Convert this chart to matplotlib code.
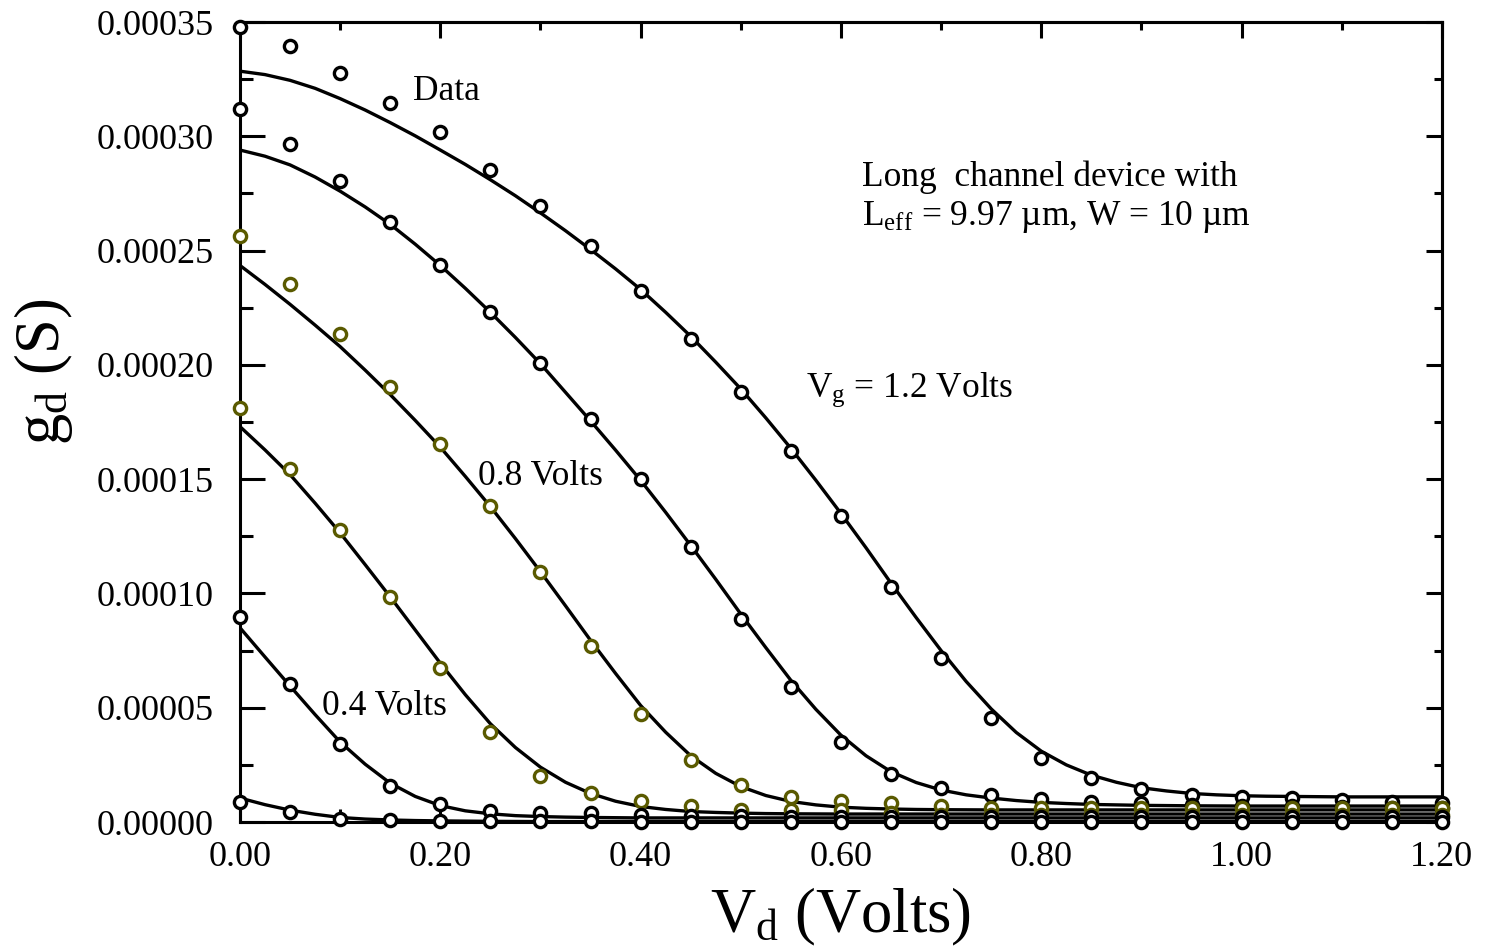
import numpy as np
import matplotlib.pyplot as plt
from matplotlib.ticker import MultipleLocator, FormatStrFormatter

plt.rcParams['font.family'] = ['Liberation Serif', 'DejaVu Serif']
plt.rcParams['mathtext.fontset'] = 'custom'
plt.rcParams['mathtext.rm'] = 'Liberation Serif'
plt.rcParams['mathtext.it'] = 'Liberation Serif:italic'

# drain voltage of the measured points (V)
vd = [0.00, 0.05, 0.10, 0.15, 0.20, 0.25, 0.30, 0.35, 0.40, 0.45, 0.50, 0.55,
      0.60, 0.65, 0.70, 0.75, 0.80, 0.85, 0.90, 0.95, 1.00, 1.05, 1.10, 1.15, 1.20]

# measured gd in micro-siemens, Vg = 1.2 ... 0.2
data_12 = [348, 339.3, 327.6, 314.7, 301.7, 285.3, 269.3, 252.2, 232.3, 211.2, 188.1, 162.3,
           133.9, 102.8, 71.8, 45.5, 28.0, 19.3, 14.4, 12.0, 11.0, 10.5, 9.6, 8.6, 8.5]
data_10 = [312, 296.6, 280.4, 262.6, 243.7, 223.3, 200.8, 176.3, 150, 120.5, 89, 59,
           35, 21, 14.9, 11.8, 10.0, 8.8, 8.2, 7.5, 7.0, 7.0, 6.5, 6.0, 6.0]
data_08 = [256.5, 235.4, 213.4, 190.2, 165.4, 138.3, 109.2, 77.1, 47.3, 27.1, 16.2, 11.1,
           9.2, 8.5, 7.1, 6.0, 6.0, 6.0, 6.0, 6.0, 6.0, 6.0, 6.0, 6.0, 6.0]
data_06 = [181, 154.4, 127.8, 98.4, 67.4, 39.4, 20.1, 12.7, 9.2, 6.8, 5.3, 5.3,
           5.3, 3.8, 3.1, 3.1, 3.1, 3.1, 3.1, 3.1, 3.1, 3.1, 3.1, 3.1, 3.1]
data_04 = [89.6, 60.4, 34.1, 15.9, 7.9, 5.0, 3.8, 3.8, 3.1, 2.8, 2.5, 2.3,
           2.1, 2.0, 2.0, 2.0, 2.0, 2.0, 2.0, 2.0, 2.0, 2.0, 2.0, 2.0, 2.0]
data_02 = [8.9, 4.2, 1.3, 0.9, 0.6, 0.4, 0.3, 0.3, 0.2, 0.2, 0.2, 0.2,
           0.2, 0.1, 0.1, 0.1, 0.1, 0.1, 0.1, 0.1, 0.1, 0.1, 0.1, 0.1, 0.1]

# model fit curves (micro-siemens), read every 0.025 V
vd_fit = [0.000, 0.025, 0.050, 0.075, 0.100, 0.125, 0.150, 0.175, 0.200, 0.225,
          0.250, 0.275, 0.300, 0.325, 0.350, 0.375, 0.400, 0.425, 0.450, 0.475,
          0.500, 0.525, 0.550, 0.575, 0.600, 0.625, 0.650, 0.675, 0.700, 0.725,
          0.750, 0.775, 0.800, 0.825, 0.850, 0.875, 0.900, 0.925, 0.950, 0.975,
          1.000, 1.025, 1.050, 1.075, 1.100, 1.125, 1.150, 1.175, 1.200]
fit_12 = [328.5, 327, 324.5, 321, 316.5, 311.5, 306, 300.2, 294, 287.7,
          281, 274, 266.5, 258.7, 250.5, 242, 233, 223, 212.5, 201.2,
          189.5, 176.8, 163.5, 149.5, 135, 120, 104.5, 89.5, 75, 61.5,
          49.5, 39.2, 31, 25, 20.5, 17.4, 15, 13.6, 12.5, 11.9,
          11.5, 11.3, 11.2, 11.1, 11.0, 11.0, 11.0, 11.0, 11.0]
fit_10 = [294, 291.3, 287.5, 282.2, 276, 269.1, 261.5, 252.8, 243.5, 233.5,
          223, 212, 200.5, 188, 175.5, 162.7, 149.5, 135.5, 121, 106.2,
          91, 76.3, 62, 49.3, 38, 29, 22, 17.3, 14, 11.9,
          10.5, 9.4, 8.6, 8.1, 7.7, 7.5, 7.3, 7.2, 7.1, 7.05,
          7.0, 7.0, 7.0, 7.0, 7.0, 7.0, 7.0, 7.0, 7.0]
fit_08 = [243.5, 235.2, 226.5, 217.4, 208, 197.7, 187, 175.7, 164, 151.2,
          138, 124, 109.5, 94.6, 79.5, 65, 51, 39.3, 29, 21.3,
          15.5, 11.6, 9, 7.5, 6.5, 6.0, 5.7, 5.5, 5.4, 5.35,
          5.3, 5.3, 5.3, 5.3, 5.3, 5.3, 5.3, 5.3, 5.3, 5.3,
          5.3, 5.3, 5.3, 5.3, 5.3, 5.3, 5.3, 5.3, 5.3]
fit_06 = [173, 162.8, 152, 139.5, 126.5, 112.6, 98.5, 84, 69.5, 55.7,
          43, 32.6, 24, 17.4, 12.5, 9.1, 6.8, 5.5, 4.6, 4.2,
          3.9, 3.7, 3.6, 3.55, 3.5, 3.5, 3.5, 3.5, 3.5, 3.5,
          3.5, 3.5, 3.5, 3.5, 3.5, 3.5, 3.5, 3.5, 3.5, 3.5,
          3.5, 3.5, 3.5, 3.5, 3.5, 3.5, 3.5, 3.5, 3.5]
fit_04 = [85, 72.2, 59.5, 47, 35, 25.3, 17, 11.2, 7.2, 4.9,
          3.6, 2.8, 2.4, 2.15, 2.0, 1.9, 1.8, 1.8, 1.8, 1.8,
          1.8, 1.8, 1.8, 1.8, 1.8, 1.8, 1.8, 1.8, 1.8, 1.8,
          1.8, 1.8, 1.8, 1.8, 1.8, 1.8, 1.8, 1.8, 1.8, 1.8,
          1.8, 1.8, 1.8, 1.8, 1.8, 1.8, 1.8, 1.8, 1.8]
fit_02 = [10.5, 7.6, 5.2, 3.4, 2.0, 1.3, 0.9, 0.65, 0.5, 0.4,
          0.3, 0.25, 0.2, 0.2, 0.2, 0.2, 0.2, 0.2, 0.2, 0.2,
          0.2, 0.2, 0.2, 0.2, 0.2, 0.2, 0.2, 0.2, 0.2, 0.2,
          0.2, 0.2, 0.2, 0.2, 0.2, 0.2, 0.2, 0.2, 0.2, 0.2,
          0.2, 0.2, 0.2, 0.2, 0.2, 0.2, 0.2, 0.2, 0.2]

black = '#000000'
olive = '#5a5a00'
series = [(data_12, fit_12, black), (data_10, fit_10, black),
          (data_08, fit_08, olive), (data_06, fit_06, olive),
          (data_04, fit_04, black), (data_02, fit_02, black)]

fig = plt.figure(figsize=(14.85, 9.5), dpi=100)
ax = fig.add_axes([0.1616, 0.1347, 0.8094, 0.8421])

for d, f, c in series:
    ax.plot(vd_fit, np.array(f) * 1e-6, color='black', lw=2.4, zorder=2)
for d, f, c in series:
    ax.plot(vd, np.array(d) * 1e-6, ls='none', marker='o', ms=8.8, mew=2.4,
            mec=c, mfc='white', clip_on=False, zorder=3)

ax.set_xlim(0, 1.2)
ax.set_ylim(0, 0.00035)

ax.xaxis.set_major_locator(MultipleLocator(0.2))
ax.xaxis.set_minor_locator(MultipleLocator(0.1))
ax.yaxis.set_major_locator(MultipleLocator(0.00005))
ax.yaxis.set_minor_locator(MultipleLocator(0.000025))
ax.xaxis.set_major_formatter(FormatStrFormatter('%.2f'))
ax.yaxis.set_major_formatter(FormatStrFormatter('%.5f'))

for s in ax.spines.values():
    s.set_linewidth(2.2)
ax.tick_params(which='both', direction='in', width=2.2, labelsize=26,
               top=False, right=False)
ax.tick_params(which='major', length=18)
ax.tick_params(which='minor', length=9.4)
ax.tick_params(axis='y', pad=19)
ax.tick_params(axis='x', pad=14)

# right and top ticks are shorter
sy = ax.secondary_yaxis('right')
sy.yaxis.set_major_locator(MultipleLocator(0.00005))
sy.yaxis.set_minor_locator(MultipleLocator(0.000025))
sy.tick_params(which='both', direction='in', width=2.2, labelright=False)
sy.tick_params(which='major', length=11.5)
sy.tick_params(which='minor', length=5.8)
sy.spines['right'].set_linewidth(2.2)
sx = ax.secondary_xaxis('top')
sx.xaxis.set_major_locator(MultipleLocator(0.2))
sx.xaxis.set_minor_locator(MultipleLocator(0.1))
sx.tick_params(which='both', direction='in', width=2.2, labeltop=False)
sx.tick_params(which='major', length=11.5)
sx.tick_params(which='minor', length=5.8)
sx.spines['top'].set_linewidth(2.2)

ax.set_xlabel(r'V$_{\mathrm{d}}$ (Volts)', fontsize=45, labelpad=8)
ax.set_ylabel(r'g$_{\mathrm{d}}$ (S)', fontsize=45)
ax.yaxis.set_label_coords(-0.137, 0.5625)

ax.text(0.173, 3.159e-4, 'Data', fontsize=25.5, va='baseline')
ax.text(0.621, 2.7825e-4, 'Long  channel device with', fontsize=25.5, va='baseline')
ax.text(0.621, 2.612e-4, r'L$_{\mathrm{eff}}$ = 9.97 µm, W = 10 µm', fontsize=25.5, va='baseline')
ax.text(0.565, 1.859e-4, r'V$_{\mathrm{g}}$ = 1.2 Volts', fontsize=25.5, va='baseline')
ax.text(0.2376, 1.474e-4, '0.8 Volts', fontsize=25.5, va='baseline')
ax.text(0.0819, 4.68e-5, '0.4 Volts', fontsize=25.5, va='baseline')

plt.savefig('out.png', dpi=100)
